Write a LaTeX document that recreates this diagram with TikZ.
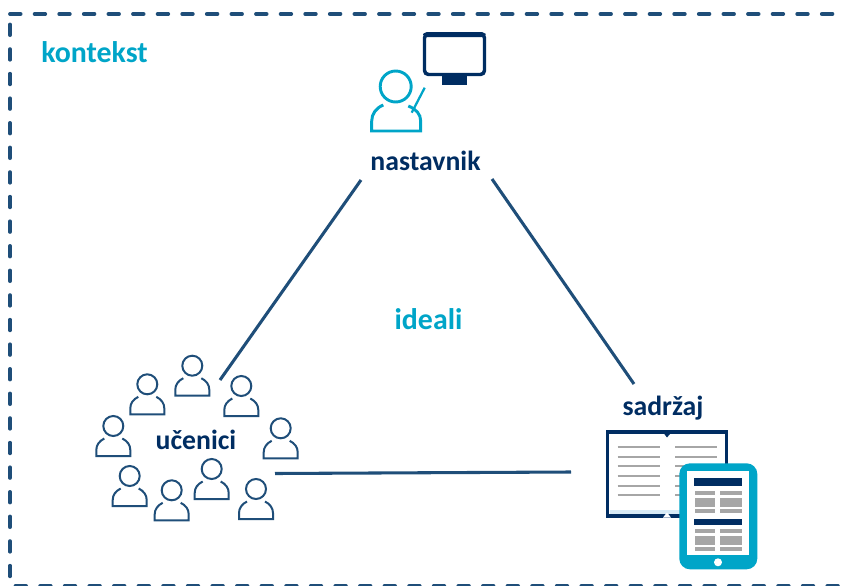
\documentclass[tikz,border=0pt]{standalone}
\usepackage{fontspec}
\setmainfont{Carlito}
\usepackage{xcolor}
\definecolor{rimblue}{HTML}{1F4E79}
\definecolor{navy}{HTML}{002D62}
\definecolor{teal}{HTML}{00A5C8}
\definecolor{pagegrey}{HTML}{A6A6A6}
\definecolor{paleblue}{HTML}{D6EAF6}
\tikzset{
    word/.style={font=\bfseries\fontsize{20.8}{22}\selectfont, inner sep=0pt},
    tealword/.style={teal, font=\bfseries\fontsize{22.4}{24}\selectfont, inner sep=0pt},
    link/.style={rimblue, line width=2.3pt},
    rim/.style={rimblue, line width=2.8pt, line cap=round, dash pattern=on 8pt off 10.45pt},
    person/.style={rimblue, line width=1.5pt},
    pagerule/.style={pagegrey, line width=1.6pt},
    pupil/.pic={
        \draw[person] (0,0) circle (10);
        \draw[person] (-9,12.5) .. controls (-14,15) and (-17,19) .. (-17,24) -- (-17,30) -- (17,30) -- (17,24) .. controls (17,19) and (14,15) .. (9,12.5);
    }
}

\begin{document}
\begin{tikzpicture}[x=0.75pt, y=-0.75pt]
        \useasboundingbox (0,0) rectangle (847,586);

        % frame
        \draw[rim] (10,14) -- (838,14);
        \draw[rim] (10,24.5) -- (10,580);
        \draw[rim] (15.5,586) -- (842,586);

        \node[tealword] (kontekst) at (94.5,52) {kontekst};
        \node[tealword] (ideali) at (428.5,319.5) {ideali};
        \node[word, navy] (nastavnik) at (425.5,160.5) {nastavnik};
        \node[word, navy] (ucenici) at (196,439.5) {učenici};
        \node[word, navy] (sadrzaj) at (663,408) {sadržaj};

        % free ends of the links
        \coordinate (nastavnikL) at (361,180);
        \coordinate (nastavnikR) at (492,179);
        \coordinate (uceniciT) at (220,380);
        \coordinate (uceniciR) at (275,473.5);
        \coordinate (sadrzajT) at (634,384);
        \coordinate (sadrzajL) at (571,472);

        \draw[link] (nastavnikL) -- (uceniciT);
        \draw[link] (nastavnikR) -- (sadrzajT);
        \draw[link] (uceniciR) -- (sadrzajL);

        % pupils
        \foreach \px/\py in {192.3/365.7, 147.3/384.3, 241.3/386, 113.3/426, 280.7/428.3, 129.7/476, 171.7/490.3, 211.7/469, 256/489}
            \pic at (\px,\py) {pupil};

        % teacher
        \draw[teal, line width=2.2pt] (395.7,86.5) circle (15.5);
        \draw[teal, line width=2.2pt] (383.3,105) .. controls (376,108) and (371.7,114) .. (371.7,121) -- (371.7,131) -- (420.7,131) -- (420.7,121) .. controls (420.7,114) and (416,109) .. (408.3,106);
        \draw[teal, line width=1.7pt] (424.7,87.7) -- (411.7,112.7);

        % monitor
        \draw[navy, line width=2.6pt, rounded corners=3] (424.5,34) rectangle (484.5,74.5);
        \fill[navy] (423,32) [rounded corners=3] rectangle (485.7,37);
        \fill[navy] (442.3,75.7) rectangle (466.7,85.3);

        % book
        \fill[paleblue] (610,510) rectangle (690,516);
        \draw[navy, line width=2.8pt] (607.5,431.8) rectangle (726.5,516);
        \fill[navy] (662,431) -- (672.5,431) -- (667,437.5) -- cycle;
        \fill[white] (663,517.5) -- (671,517.5) -- (667,512.5) -- cycle;
        \foreach \py in {447,456.7,466.3,476,485.7,495.3} {
            \draw[pagerule] (617.7,\py) -- (660,\py);
            \draw[pagerule] (675,\py) -- (716.7,\py);
        }

        % tablet
        \fill[teal, rounded corners=8] (679.3,463.3) rectangle (757.3,569.3);
        \fill[white] (686.7,471) rectangle (749.3,555);
        \fill[white] (718,562.3) circle (4);
        \fill[navy] (693.7,477.7) rectangle (742.3,486.3);
        \fill[navy] (693.7,519.3) rectangle (742.3,524.7);
        \foreach \ya/\yb in {490.7/495, 497.7/506.7, 508.7/513, 528.7/533, 535.7/544.7, 546.7/550.7} {
            \fill[pagegrey] (695,\ya) rectangle (715,\yb);
            \fill[pagegrey] (719.7,\ya) rectangle (742.3,\yb);
        }

    \end{tikzpicture}
\end{document}
